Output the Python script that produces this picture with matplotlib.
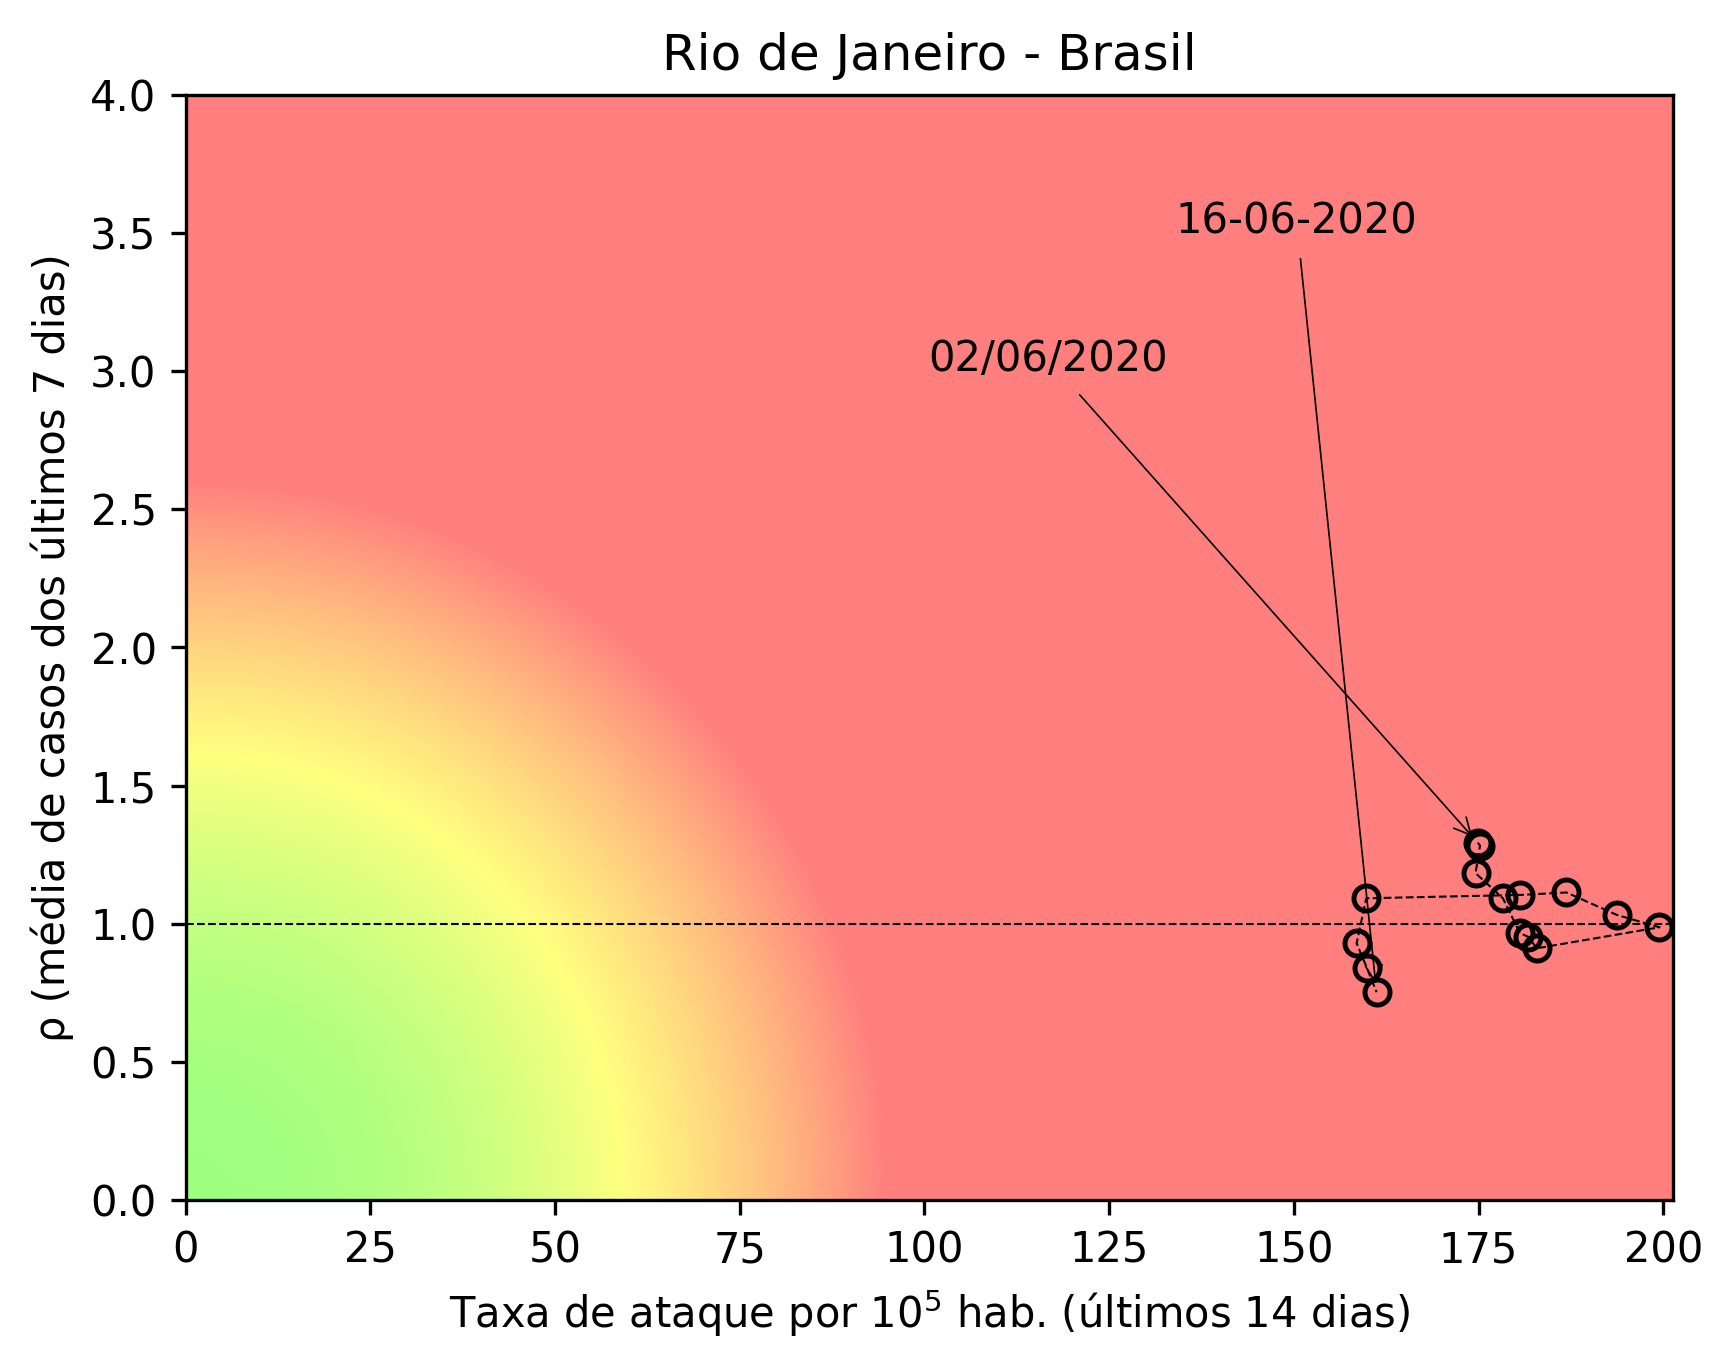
import numpy as np
import matplotlib
matplotlib.use("Agg")
import matplotlib.pyplot as plt
from matplotlib.colors import LinearSegmentedColormap

# attack rate per 10^5 inhabitants (last 14 days), 02/06/2020 .. 16/06/2020
taxa = [174.9, 175.2, 174.6, 178.3, 180.6, 181.7, 182.9, 199.5,
        193.7, 186.9, 180.6, 159.8, 158.5, 159.9, 161.2]
# rho (mean of cases over last 7 days)
rho = [1.293, 1.283, 1.183, 1.092, 0.966, 0.953, 0.911, 0.987,
       1.032, 1.113, 1.104, 1.092, 0.929, 0.839, 0.752]

x_max = 201.3
y_max = 4.0

# risk background: green -> yellow -> red
risk_cmap = LinearSegmentedColormap.from_list(
    "risk",
    [(0.0, (0.62, 1.0, 0.5)), (0.385, (1.0, 1.0, 0.5)), (1.0, (1.0, 0.5, 0.5))],
)
gx, gy = np.meshgrid(np.linspace(0, x_max, 600), np.linspace(0, y_max, 600))
field = np.clip((gx / 95.0) ** 2 + (gy / 2.6) ** 2, 0, 1)

fig = plt.figure(figsize=(5.783, 4.567), dpi=300)
ax = fig.add_axes([0.1071, 0.1241, 0.8571, 0.8066])

ax.imshow(field, cmap=risk_cmap, origin="lower", extent=[0, x_max, 0, y_max],
          aspect="auto", interpolation="bilinear", vmin=0, vmax=1)

ax.axhline(1.0, color="black", linestyle="--", linewidth=0.5)
ax.plot(taxa, rho, color="black", linestyle="--", linewidth=0.5,
        marker="o", markersize=6, markerfacecolor="none",
        markeredgecolor="black", markeredgewidth=1.2)

ax.annotate("02/06/2020", xy=(taxa[0], rho[0]), xytext=(100.5, 3.0),
            arrowprops=dict(arrowstyle="->", color="black", linewidth=0.4))
ax.annotate("16-06-2020", xy=(taxa[-1], rho[-1]), xytext=(134.0, 3.5),
            arrowprops=dict(arrowstyle="->", color="black", linewidth=0.4))

ax.set_xlim(0, x_max)
ax.set_ylim(0, y_max)
ax.set_title("Rio de Janeiro - Brasil")
ax.set_xlabel("Taxa de ataque por $10^5$ hab. (últimos 14 dias)")
ax.set_ylabel("ρ (média de casos dos últimos 7 dias)")

fig.savefig("out.png", dpi=300)
